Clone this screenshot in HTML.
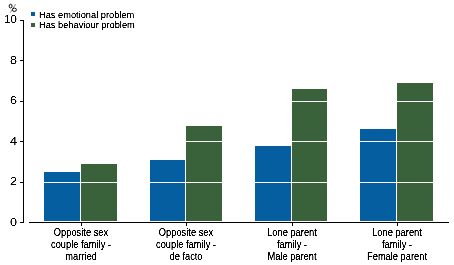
<!DOCTYPE html>
<html><head><meta charset="utf-8"><style>
html,body{margin:0;padding:0;background:#fff;width:454px;height:265px;overflow:hidden;position:relative}
body{font-family:"Liberation Sans",sans-serif;color:#000;-webkit-text-stroke:0.2px #000}
.yl{position:absolute;right:437px;font-size:11px;line-height:12px;white-space:nowrap;-webkit-text-stroke:0.05px #000;background:#fff;filter:contrast(2.5);transform:scaleX(1.15);transform-origin:right}
.xl{position:absolute;width:100px;text-align:center;font-size:11px;line-height:12px;white-space:nowrap;background:#fff;filter:contrast(3)}
.xl span{display:block;transform:scaleX(0.845);transform-origin:center}
.lg{position:absolute;left:39px;font-size:9.5px;line-height:10px;white-space:nowrap;transform:scaleX(0.975);transform-origin:left;-webkit-text-stroke:0.15px #000;background:#fff;filter:contrast(2.5)}
</style></head><body>
<div style="position:absolute;left:44px;top:172px;width:36px;height:49px;background:#045ea0"></div><div style="position:absolute;left:81px;top:164px;width:36px;height:57px;background:#39613a"></div><div style="position:absolute;left:150px;top:160px;width:35px;height:61px;background:#045ea0"></div><div style="position:absolute;left:186px;top:126px;width:36px;height:95px;background:#39613a"></div><div style="position:absolute;left:255px;top:146px;width:36px;height:75px;background:#045ea0"></div><div style="position:absolute;left:292px;top:89px;width:35px;height:132px;background:#39613a"></div><div style="position:absolute;left:360px;top:129px;width:36px;height:92px;background:#045ea0"></div><div style="position:absolute;left:397px;top:83px;width:36px;height:138px;background:#39613a"></div><div style="position:absolute;left:29px;top:182px;width:420px;height:1px;background:#fff"></div><div style="position:absolute;left:29px;top:141px;width:420px;height:1px;background:#fff"></div><div style="position:absolute;left:29px;top:101px;width:420px;height:1px;background:#fff"></div><div style="position:absolute;left:29px;top:60px;width:420px;height:1px;background:#fff"></div><div style="position:absolute;left:23px;top:20px;width:1px;height:203px;background:#000"></div><div style="position:absolute;left:20px;top:222px;width:3px;height:1px;background:#000"></div><div style="position:absolute;left:20px;top:182px;width:3px;height:1px;background:#000"></div><div style="position:absolute;left:20px;top:141px;width:3px;height:1px;background:#000"></div><div style="position:absolute;left:20px;top:101px;width:3px;height:1px;background:#000"></div><div style="position:absolute;left:20px;top:60px;width:3px;height:1px;background:#000"></div><div style="position:absolute;left:20px;top:20px;width:3px;height:1px;background:#000"></div><div style="position:absolute;left:29px;top:222px;width:420px;height:1px;background:#000"></div><div style="position:absolute;left:81px;top:223px;width:1px;height:3px;background:#000"></div><div style="position:absolute;left:186px;top:223px;width:1px;height:3px;background:#000"></div><div style="position:absolute;left:292px;top:223px;width:1px;height:3px;background:#000"></div><div style="position:absolute;left:397px;top:223px;width:1px;height:3px;background:#000"></div><div class="yl" style="top:216px">0</div><div class="yl" style="top:175px">2</div><div class="yl" style="top:135px">4</div><div class="yl" style="top:94px">6</div><div class="yl" style="top:54px">8</div><div class="yl" style="top:13px;transform:translateX(-0.6px) scaleX(1.02)">10</div><svg style="position:absolute;left:0;top:0" width="20" height="15"><line x1="15.6" y1="4.2" x2="10.4" y2="12.5" stroke="#777" stroke-width="0.9"/><ellipse cx="10.6" cy="6.1" rx="1.45" ry="1.85" fill="#fff" stroke="#000" stroke-width="0.95"/><ellipse cx="14.4" cy="9.8" rx="2.0" ry="1.65" fill="#fff" stroke="#000" stroke-width="0.95"/></svg><div style="position:absolute;left:31px;top:12px;width:4px;height:4px;background:#045ea0"></div><div style="position:absolute;left:31px;top:23px;width:4px;height:4px;background:#39613a"></div><div class="lg" style="top:10px">Has emotional problem</div><div class="lg" style="top:20px">Has behaviour problem</div><div class="xl" style="left:31px;top:226px"><span>Opposite sex</span><span>couple family -</span><span>married</span></div><div class="xl" style="left:136px;top:226px"><span>Opposite sex</span><span>couple family -</span><span>de facto</span></div><div class="xl" style="left:242px;top:226px"><span>Lone parent</span><span>family -</span><span>Male parent</span></div><div class="xl" style="left:347px;top:226px"><span>Lone parent</span><span>family -</span><span>Female parent</span></div>
</body></html>
